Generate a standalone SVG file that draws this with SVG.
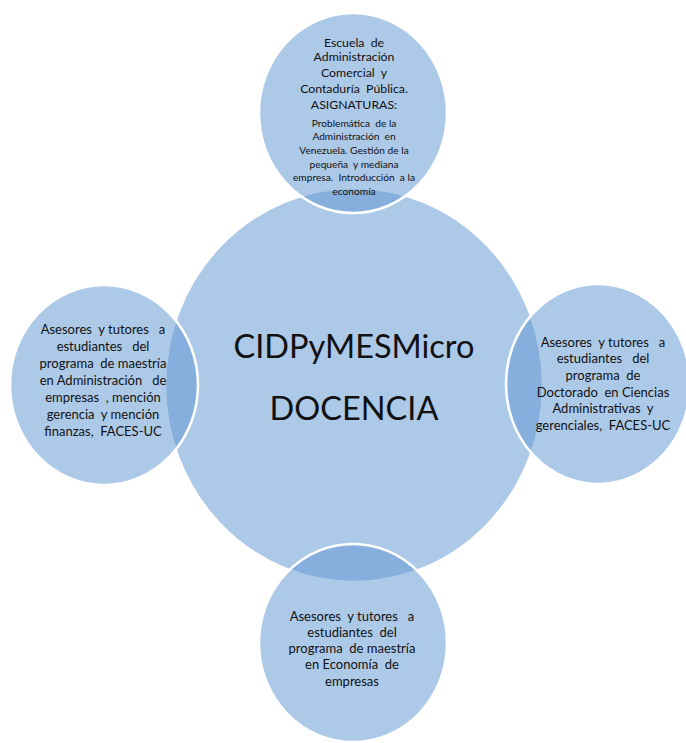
<svg xmlns="http://www.w3.org/2000/svg" width="686" height="743" viewBox="0 0 686 743">
<style>
.c{fill:#6297D3;fill-opacity:0.52;stroke:#ffffff;stroke-width:2.5}
text{font-family:Lato,"Open Sans","Liberation Sans",sans-serif;fill:#111;text-anchor:middle;white-space:pre}
.t{font-size:13px}
.h{font-size:12.3px}
.s{font-size:10.2px}
.big{font-size:32.5px}
</style>
<rect width="686" height="743" fill="#ffffff"/>
<g id="center">
<ellipse class="c" cx="354" cy="385" rx="189" ry="197"/>
<text class="big" x="354" y="358">CIDPyMESMicro</text>
<text class="big" x="354" y="420">DOCENCIA</text>
</g>
<g id="top">
<ellipse class="c" cx="353" cy="113" rx="94" ry="100"/>
<text class="h" x="354" y="47">Escuela  de</text>
<text class="h" x="354" y="61">Administración</text>
<text class="h" x="354" y="77">Comercial  y</text>
<text class="h" x="354" y="93">Contaduría  Pública.</text>
<text class="h" x="354" y="109">ASIGNATURAS:</text>
<text class="s" x="354" y="126.5">Problemática  de la</text>
<text class="s" x="354" y="139.5">Administración  en</text>
<text class="s" x="354" y="153.5">Venezuela. Gestión de la</text>
<text class="s" x="354" y="167.5">pequeña  y mediana</text>
<text class="s" x="354" y="180.5">empresa.  Introducción  a la</text>
<text class="s" x="354" y="194.5">economía</text>
</g>
<g id="left">
<ellipse class="c" cx="104" cy="385" rx="94" ry="100"/>
<text class="t" x="103" y="334">Asesores  y tutores   a</text>
<text class="t" x="103" y="351">estudiantes   del</text>
<text class="t" x="103" y="368">programa  de maestría</text>
<text class="t" x="103" y="385">en Administración   de</text>
<text class="t" x="103" y="402">empresas  , mención</text>
<text class="t" x="103" y="419">gerencia  y mención</text>
<text class="t" x="103" y="436">finanzas,  FACES-UC</text>
</g>
<g id="right">
<ellipse class="c" cx="598" cy="384" rx="92" ry="100"/>
<text class="t" x="603" y="346.5">Asesores  y tutores   a</text>
<text class="t" x="603" y="363.2">estudiantes   del</text>
<text class="t" x="603" y="379.9">programa  de</text>
<text class="t" x="603" y="396.6">Doctorado  en Ciencias</text>
<text class="t" x="603" y="413.3">Administrativas  y</text>
<text class="t" x="603" y="430">gerenciales,  FACES-UC</text>
</g>
<g id="bottom">
<ellipse class="c" cx="353" cy="643" rx="94" ry="99"/>
<text class="t" x="352" y="620.5">Asesores  y tutores   a</text>
<text class="t" x="352" y="636.8">estudiantes  del</text>
<text class="t" x="352" y="653.1">programa  de maestría</text>
<text class="t" x="352" y="669.4">en Economía  de</text>
<text class="t" x="352" y="685.7">empresas</text>
</g>
</svg>
